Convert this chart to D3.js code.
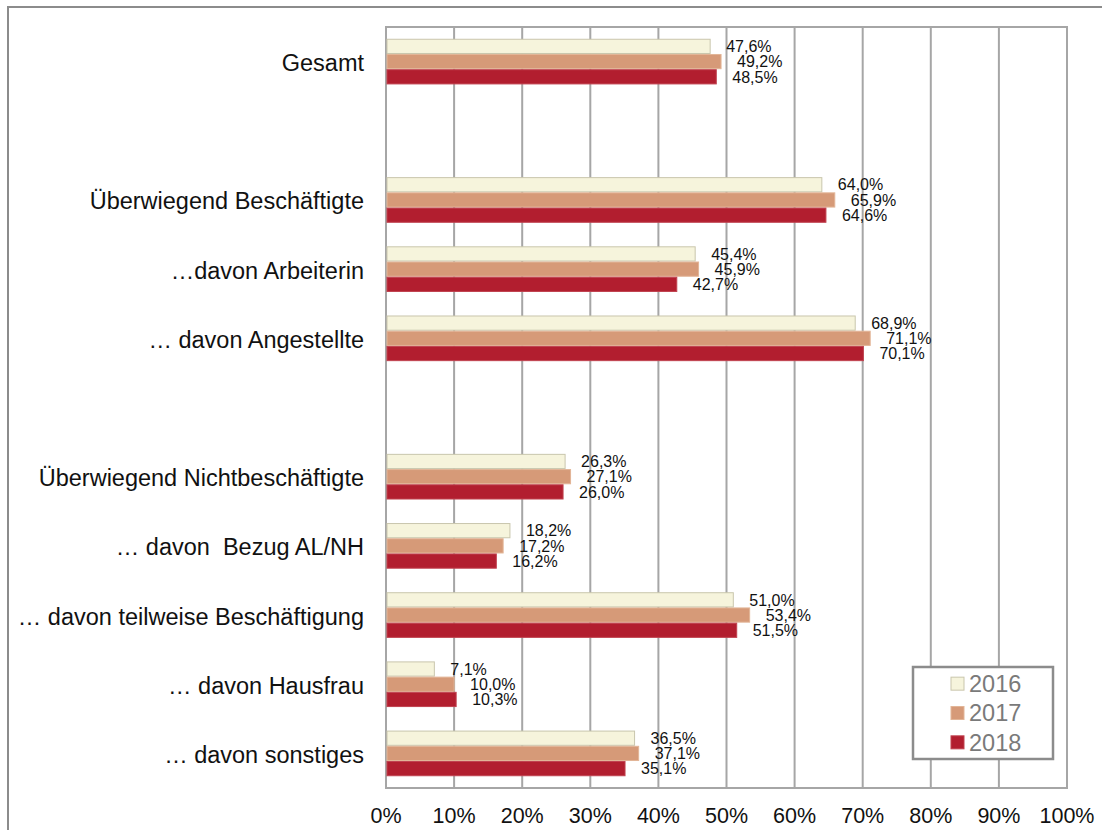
<!DOCTYPE html>
<html>
<head>
<meta charset="utf-8">
<script src="https://cdn.jsdelivr.net/npm/d3@7"></script>
<style>
  html, body { margin: 0; padding: 0; background: #fff; }
  svg { display: block; font-family: "Liberation Sans", Arial, sans-serif; }
  text { white-space: pre; }
</style>
</head>
<body>
<div id="chart"></div>
<script>
// Kategorien (leere Einträge = Abstandszeilen)
const categories = [
  'Gesamt',
  '',
  'Überwiegend Beschäftigte',
  '…davon Arbeiterin',
  '… davon Angestellte',
  '',
  'Überwiegend Nichtbeschäftigte',
  '… davon  Bezug AL/NH',
  '… davon teilweise Beschäftigung',
  '… davon Hausfrau',
  '… davon sonstiges'
];
const years = ['2016', '2017', '2018'];
const values2016 = [47.6, null, 64.0, 45.4, 68.9, null, 26.3, 18.2, 51.0, 7.1, 36.5];
const values2017 = [49.2, null, 65.9, 45.9, 71.1, null, 27.1, 17.2, 53.4, 10.0, 37.1];
const values2018 = [48.5, null, 64.6, 42.7, 70.1, null, 26.0, 16.2, 51.5, 10.3, 35.1];
const xTicks = [0, 10, 20, 30, 40, 50, 60, 70, 80, 90, 100];

const series = [values2016, values2017, values2018];
const fills = ['#f6f4dc', '#d69a78', '#b21e2f'];
const strokes = ['#c9c6ad', '#e2b597', '#c0424f'];

const W = 1102, H = 830;
const m = { left: 386, top: 27, right: 1067, bottom: 788 };

const svg = d3.select('#chart').append('svg').attr('width', W).attr('height', H);

// Außenrahmen
svg.append('path')
  .attr('d', `M8,${H + 2} L8,7 L${W + 2},7`)
  .attr('fill', 'none').attr('stroke', '#8c8c8c').attr('stroke-width', 2);

const x = d3.scaleLinear().domain([0, 100]).range([m.left, m.right]);
const y = d3.scaleBand().domain(d3.range(categories.length)).range([m.top, m.bottom]).paddingInner(0.34).paddingOuter(0.17);
const ySub = d3.scaleBand().domain(d3.range(years.length)).range([0, y.bandwidth()]);

// Gitterlinien
svg.append('g').selectAll('line').data(xTicks.slice(1)).join('line')
  .attr('x1', (d) => x(d)).attr('x2', (d) => x(d))
  .attr('y1', m.top).attr('y2', m.bottom)
  .attr('stroke', '#a6a6a6').attr('stroke-width', 2);

// Plotrahmen
svg.append('rect')
  .attr('x', m.left).attr('y', m.top)
  .attr('width', m.right - m.left).attr('height', m.bottom - m.top)
  .attr('fill', 'none').attr('stroke', '#a6a6a6').attr('stroke-width', 2);

// Balken
series.forEach((vals, s) => {
  const rows = vals.map((v, i) => ({ v, i })).filter((d) => d.v != null);
  svg.append('g').selectAll('rect').data(rows).join('rect')
    .attr('x', x(0) + 1)
    .attr('y', (d) => y(d.i) + ySub(s) + 0.5)
    .attr('width', (d) => x(d.v) - x(0) - 1)
    .attr('height', ySub.bandwidth() - 1)
    .attr('fill', fills[s]).attr('stroke', strokes[s]).attr('stroke-width', 1);
});

// Werte-Beschriftungen
const fmt = (v) => v.toFixed(1).replace('.', ',') + '%';
series.forEach((vals, s) => {
  const rows = vals.map((v, i) => ({ v, i })).filter((d) => d.v != null);
  svg.append('g').selectAll('text').data(rows).join('text')
    .attr('x', (d) => x(d.v) + 16)
    .attr('y', (d) => y(d.i) + ySub(s) + ySub.bandwidth() / 2)
    .attr('dy', '0.36em')
    .attr('font-size', 16).attr('fill', '#111')
    .text((d) => fmt(d.v));
});

// Kategorien
svg.append('g').selectAll('text').data(categories).join('text')
  .attr('x', m.left - 22)
  .attr('y', (d, i) => y(i) + y.bandwidth() / 2 + 1)
  .attr('dy', '0.36em')
  .attr('text-anchor', 'end')
  .attr('font-size', 23.5).attr('fill', '#111')
  .text((d) => d);

// X-Achse
svg.append('g').selectAll('text').data(xTicks).join('text')
  .attr('x', (d) => x(d))
  .attr('y', 815)
  .attr('dy', '0.36em')
  .attr('text-anchor', 'middle')
  .attr('font-size', 21.5).attr('fill', '#111')
  .text((d) => d + '%');

// Legende
const lg = svg.append('g');
lg.append('rect').attr('x', 913).attr('y', 667).attr('width', 140).attr('height', 92)
  .attr('fill', '#fff').attr('stroke', '#8c8c8c').attr('stroke-width', 2.5);
const ly = d3.scaleBand().domain(years).range([669, 757]);
years.forEach((yr, s) => {
  lg.append('rect').attr('x', 951).attr('y', ly(yr) + ly.bandwidth() / 2 - 6.5)
    .attr('width', 13).attr('height', 13)
    .attr('fill', fills[s]).attr('stroke', strokes[s]).attr('stroke-width', 1);
  lg.append('text').attr('x', 969).attr('y', ly(yr) + ly.bandwidth() / 2)
    .attr('dy', '0.36em').attr('font-size', 23.5).attr('fill', '#7a7a7a')
    .text(yr);
});
</script>
</body>
</html>
